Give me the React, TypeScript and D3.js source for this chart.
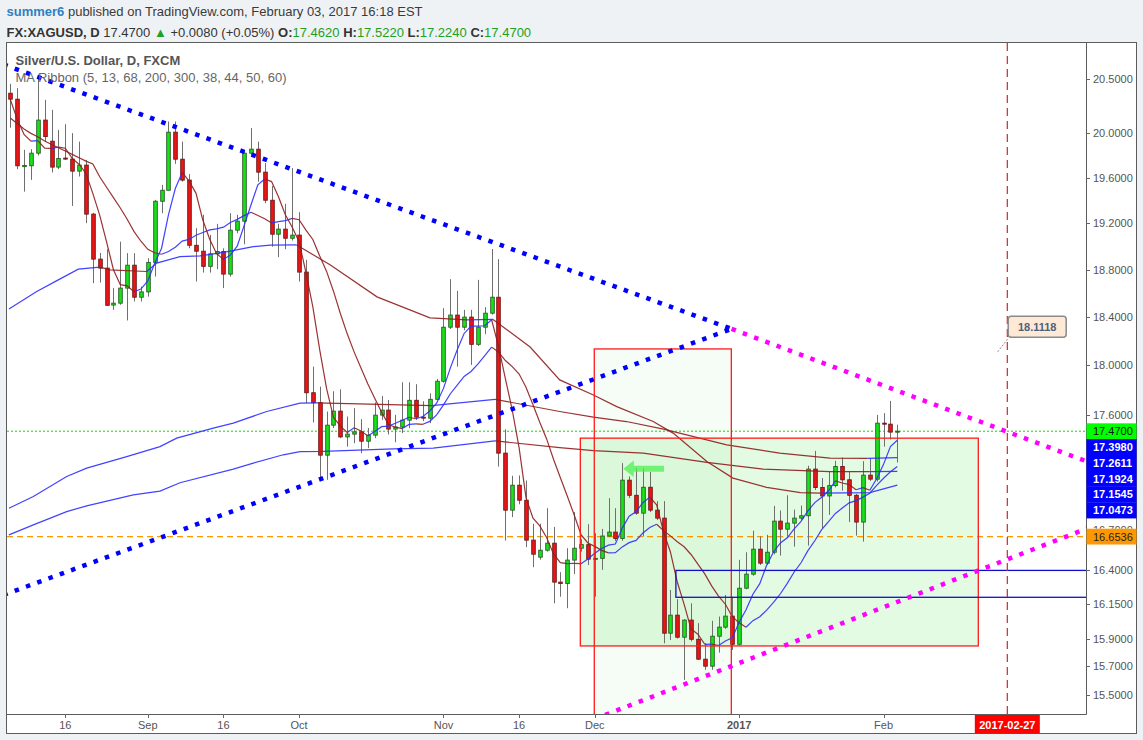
import React from 'react';
import * as d3 from 'd3';

const W = 1143;
const H = 740;
const PL = 7, PR = 1086, PT = 43, PB = 714;

// ---- OHLC (daily bars, index 0..129) ----
const opens = [
  20.368, 20.313, 19.700, 19.708, 19.821, 20.121, 19.929, 19.696, 19.777, 19.768,
  19.660, 19.714, 19.280, 18.890, 18.813, 18.500, 18.516, 18.643, 18.838, 18.566,
  18.611, 18.862, 19.393, 19.490, 20.011, 19.767, 19.580, 19.009, 18.958, 18.828,
  18.935, 18.955, 18.762, 19.140, 19.219, 19.821, 19.857, 19.651, 19.402, 19.105,
  19.149, 19.070, 19.097, 18.779, 17.778, 17.698, 17.281, 17.518, 17.630, 17.425,
  17.447, 17.465, 17.391, 17.439, 17.598, 17.638, 17.487, 17.503, 17.558, 17.717,
  17.582, 17.574, 17.725, 17.871, 18.315, 18.416, 18.315, 18.399, 18.173, 18.315,
  18.432, 18.566, 17.297, 16.855, 17.047, 16.931, 16.627, 16.499, 16.551, 16.604,
  16.313, 16.303, 16.477, 16.566, 16.593, 16.484, 16.490, 16.658, 16.688, 16.640,
  17.086, 16.969, 16.832, 17.031, 16.855, 16.794, 15.939, 16.070, 15.910, 16.034,
  15.895, 15.752, 15.702, 15.917, 15.983, 16.063, 15.859, 16.268, 16.372, 16.559,
  16.454, 16.536, 16.771, 16.710, 16.756, 16.794, 16.812, 17.172, 17.029, 16.964,
  17.044, 17.192, 17.089, 16.969, 16.764, 17.125, 17.094, 17.534, 17.526, 17.462,
];
const highs = [
  20.455, 20.415, 19.851, 19.857, 20.520, 20.307, 20.215, 20.032, 20.084, 20.002,
  19.925, 19.761, 19.291, 18.943, 18.975, 18.643, 19.040, 18.941, 18.941, 18.656,
  18.898, 19.405, 19.538, 20.108, 20.108, 19.925, 19.633, 19.157, 19.274, 19.099,
  19.195, 18.983, 19.288, 19.274, 19.851, 20.048, 19.925, 19.732, 19.529, 19.195,
  19.370, 19.687, 19.297, 18.884, 17.990, 17.827, 17.627, 17.790, 17.806, 17.587,
  17.654, 17.566, 17.495, 17.700, 17.752, 17.720, 17.600, 17.863, 17.863, 17.847,
  17.709, 17.773, 17.890, 18.474, 18.719, 18.620, 18.460, 18.460, 18.713, 18.483,
  18.977, 18.890, 17.485, 17.120, 17.123, 17.083, 16.751, 16.751, 16.870, 16.727,
  16.387, 16.566, 16.840, 16.635, 16.748, 16.680, 16.712, 16.947, 16.870, 17.219,
  17.115, 17.180, 17.180, 17.149, 16.924, 16.924, 16.255, 16.187, 16.040, 16.157,
  16.012, 15.866, 16.029, 16.060, 16.218, 16.205, 16.479, 16.536, 16.698, 16.654,
  16.667, 16.888, 16.852, 16.969, 16.859, 16.890, 17.198, 17.315, 17.102, 17.151,
  17.237, 17.263, 17.153, 16.980, 17.234, 17.258, 17.600, 17.614, 17.712, 17.522,
];
const lows = [
  20.051, 19.678, 19.478, 19.582, 19.800, 19.925, 19.648, 19.678, 19.760, 19.352,
  19.612, 19.201, 18.685, 18.690, 18.495, 18.460, 18.502, 18.371, 18.530, 18.530,
  18.571, 18.741, 19.288, 19.490, 19.725, 19.566, 18.983, 18.699, 18.775, 18.775,
  18.804, 18.643, 18.741, 19.114, 19.018, 19.800, 19.566, 19.376, 18.997, 18.907,
  18.975, 19.050, 18.699, 17.694, 17.539, 17.102, 17.089, 17.495, 17.415, 17.348,
  17.375, 17.297, 17.336, 17.415, 17.560, 17.444, 17.383, 17.455, 17.495, 17.560,
  17.550, 17.534, 17.720, 17.860, 18.300, 17.990, 18.290, 18.004, 18.160, 18.257,
  18.420, 17.192, 16.624, 16.802, 16.900, 16.574, 16.424, 16.480, 16.540, 16.157,
  16.205, 16.121, 16.372, 16.540, 16.440, 16.205, 16.404, 16.650, 16.620, 16.622,
  16.947, 16.820, 16.654, 16.840, 16.780, 15.866, 15.890, 15.900, 15.605, 15.880,
  15.747, 15.676, 15.676, 15.799, 15.970, 15.818, 15.850, 16.260, 16.360, 16.440,
  16.440, 16.520, 16.511, 16.655, 16.578, 16.780, 16.586, 17.010, 16.718, 16.819,
  17.030, 17.005, 16.764, 16.661, 16.616, 17.080, 17.075, 17.348, 17.405, 17.224,
];
const closes = [
  20.313, 19.708, 19.710, 19.821, 20.121, 19.971, 19.696, 19.773, 19.768, 19.660,
  19.714, 19.280, 18.890, 18.813, 18.498, 18.516, 18.643, 18.838, 18.566, 18.611,
  18.862, 19.393, 19.490, 20.011, 19.767, 19.580, 19.009, 18.958, 18.828, 18.935,
  18.955, 18.762, 19.140, 19.219, 19.821, 19.857, 19.651, 19.402, 19.105, 19.149,
  19.070, 19.097, 18.779, 17.778, 17.698, 17.281, 17.518, 17.630, 17.425, 17.447,
  17.465, 17.391, 17.439, 17.598, 17.638, 17.487, 17.503, 17.558, 17.717, 17.582,
  17.574, 17.725, 17.871, 18.315, 18.416, 18.315, 18.399, 18.173, 18.315, 18.432,
  18.566, 17.297, 16.855, 17.047, 16.931, 16.627, 16.521, 16.551, 16.604, 16.313,
  16.303, 16.477, 16.566, 16.593, 16.484, 16.490, 16.658, 16.688, 16.640, 17.086,
  16.969, 16.832, 17.031, 16.855, 16.794, 15.939, 16.070, 15.910, 16.034, 15.895,
  15.752, 15.702, 15.917, 15.983, 16.063, 15.859, 16.268, 16.372, 16.559, 16.454,
  16.536, 16.771, 16.710, 16.756, 16.794, 16.812, 17.172, 17.029, 16.964, 17.044,
  17.192, 17.089, 16.969, 16.764, 17.125, 17.094, 17.534, 17.526, 17.463, 17.470,
];

// ---- MA ribbon lines ----
const ma5 = [
  20.31, 20.13, 19.99, 19.93, 19.935, 19.866, 19.864, 19.876, 19.866, 19.774,
  19.722, 19.639, 19.462, 19.271, 19.039, 18.799, 18.672, 18.662, 18.612, 18.635,
  18.704, 18.854, 18.984, 19.273, 19.505, 19.648, 19.571, 19.465, 19.228, 19.062,
  18.937, 18.888, 18.924, 19.002, 19.179, 19.360, 19.538, 19.590, 19.567, 19.433,
  19.275, 19.165, 19.040, 18.775, 18.484, 18.127, 17.811, 17.581, 17.510, 17.460,
  17.497, 17.472, 17.433, 17.468, 17.506, 17.511, 17.533, 17.557, 17.581, 17.569,
  17.587, 17.631, 17.694, 17.813, 17.980, 18.128, 18.263, 18.324, 18.324, 18.327,
  18.377, 18.157, 17.893, 17.639, 17.339, 16.951, 16.796, 16.735, 16.647, 16.523,
  16.458, 16.450, 16.453, 16.450, 16.485, 16.528, 16.564, 16.589, 16.598, 16.718,
  16.808, 16.843, 16.912, 16.955, 16.896, 16.690, 16.538, 16.314, 16.149, 15.970,
  15.932, 15.859, 15.860, 15.850, 15.883, 15.905, 16.018, 16.109, 16.224, 16.302,
  16.438, 16.538, 16.606, 16.645, 16.713, 16.769, 16.849, 16.913, 16.954, 17.004,
  17.080, 17.064, 17.052, 17.012, 17.028, 17.008, 17.097, 17.209, 17.348, 17.398,
];
const ma13 = [
  20.14, 20.09, 20.04, 20.00, 19.97, 19.93, 19.90, 19.87, 19.84, 19.81,
  19.78, 19.75, 19.725, 19.610, 19.517, 19.425, 19.334, 19.235, 19.127, 19.044,
  18.974, 18.945, 18.932, 18.955, 18.992, 19.045, 19.060, 19.096, 19.120, 19.142,
  19.151, 19.166, 19.207, 19.234, 19.267, 19.296, 19.268, 19.240, 19.203, 19.214,
  19.223, 19.243, 19.231, 19.141, 19.059, 18.916, 18.785, 18.617, 18.429, 18.260,
  18.111, 17.979, 17.848, 17.734, 17.622, 17.523, 17.502, 17.491, 17.524, 17.529,
  17.525, 17.548, 17.600, 17.680, 17.770, 17.840, 17.910, 17.950, 18.010, 18.080,
  18.150, 18.110, 18.040, 17.990, 17.930, 17.822, 17.684, 17.541, 17.409, 17.249,
  17.105, 16.963, 16.820, 16.668, 16.606, 16.580, 16.550, 16.531, 16.532, 16.576,
  16.608, 16.625, 16.681, 16.723, 16.747, 16.699, 16.659, 16.615, 16.577, 16.519,
  16.447, 16.374, 16.285, 16.209, 16.150, 16.059, 16.014, 15.982, 16.030, 16.059,
  16.107, 16.164, 16.227, 16.304, 16.388, 16.457, 16.548, 16.622, 16.707, 16.767,
  16.830, 16.871, 16.911, 16.928, 16.955, 16.985, 17.045, 17.101, 17.151, 17.1924,
];
const ma68: [number, number][] = [
  [-0.2, 18.466], [3.84, 18.614], [6.98, 18.713], [9.89, 18.804], [13.05, 18.821],
  [14.5, 18.798], [19.84, 18.784], [21.29, 18.856], [24.68, 18.912], [27.6, 18.918],
  [31.2, 18.95], [35.34, 18.997], [37.8, 19.011], [41.65, 19.012], [46.5, 18.841],
  [53.33, 18.569], [61.04, 18.393], [66.4, 18.376], [70.2, 18.38], [75.6, 18.151],
  [79.9, 17.882], [84.8, 17.76], [88.2, 17.666], [93.5, 17.547], [96.4, 17.455],
  [101.3, 17.231], [105.1, 17.102], [110, 17.03], [114.9, 16.99], [117.8, 16.985],
  [125, 16.99], [129, 17.0473],
];
const ma200: [number, number][] = [
  [-0.2, 16.87], [3.35, 16.959], [8.2, 17.114], [11.11, 17.18], [16.93, 17.27],
  [21.77, 17.348], [24.2, 17.415], [29.52, 17.495], [32.43, 17.534], [37.29, 17.627],
  [42.13, 17.694], [44.6, 17.697], [61.3, 17.674], [70.5, 17.725], [79.9, 17.627],
  [84.8, 17.582], [89.6, 17.547], [95.0, 17.487], [104.2, 17.362], [111.9, 17.297],
  [119.2, 17.258], [124.7, 17.256], [129, 17.2611],
];
const ma300: [number, number][] = [
  [-0.2, 16.667], [3.35, 16.743], [8.2, 16.844], [11.11, 16.888], [17.89, 16.972],
  [21.77, 17.001], [24.68, 17.066], [32.43, 17.172], [35.34, 17.219], [39.7, 17.284],
  [42.13, 17.309], [45.5, 17.311], [55.7, 17.33], [61.5, 17.336], [70.5, 17.393],
  [79.9, 17.341], [84.8, 17.317], [92.06, 17.297], [101.3, 17.224], [109.5, 17.172],
  [119.2, 17.153], [125, 17.152], [129, 17.1545],
];

// ---- axes ----
const priceTicks = [20.5, 20.0, 19.6, 19.2, 18.8, 18.4, 18.0, 17.6, 16.7, 16.4, 16.15, 15.9, 15.7, 15.5];
const timeTickIdx = [8, 20, 31, 42, 63, 74, 85, 106, 127];
const timeTickLabels = ['16', 'Sep', '16', 'Oct', 'Nov', '16', 'Dec', '2017', 'Feb'];
const futureIdx = 145;
const futureLabel = '2017-02-27';

// ---- drawings ----
const trendDescBlue: [number, number][] = [[-1, 20.636], [104.9, 18.301]];
const trendAscBlue: [number, number][] = [[-1, 16.218], [104.9, 18.301]];
const trendDescMagenta: [number, number][] = [[104.9, 18.301], [160, 17.163]];
const trendAscMagenta: [number, number][] = [[80, 15.238], [160, 16.784]];
const rectTall = { i0: 84.93, i1: 104.86, top: 18.135, bottom: 15.3 };
const rectWide = { i0: 82.9, i1: 140.78, top: 17.415, bottom: 15.847 };
const rectBlue = { i0: 96.8, i1: 170, top: 16.4, bottom: 16.201 };
const lastPrice = 17.47;
const orangeLevel = 16.6536;
const arrowTipIdx = 89.15, arrowTailIdx = 95.07, arrowPrice = 17.175;
const calloutIdx = 143.6, calloutPrice = 18.1118;

const BLUE_MA = '#2d2dff';
const RED_MA = '#8f1d1d';
const FONT = 'Liberation Sans, Arial, Helvetica, sans-serif';

function splitByDirection(pts: [number, number][]) {
  const segs: { pts: [number, number][]; up: boolean }[] = [];
  let cur: [number, number][] = [pts[0]];
  let curUp: boolean | null = null;
  for (let k = 1; k < pts.length; k++) {
    const up = pts[k][1] >= pts[k - 1][1];
    if (curUp === null) curUp = up;
    if (up !== curUp) {
      segs.push({ pts: cur, up: curUp });
      cur = [pts[k - 1]];
      curUp = up;
    }
    cur.push(pts[k]);
  }
  segs.push({ pts: cur, up: !!curUp });
  return segs;
}

export default function App() {
  const x = d3.scaleLinear().domain([0, 129]).range([10.3, 897.3]);
  const y = d3.scaleLog().domain([15.5, 20.5]).range([694.7, 79]);
  const line = d3.line<[number, number]>().x((d) => x(d[0])).y((d) => y(d[1]));
  const fmt = d3.format('.4f');

  const maSeries: [number, number][][] = [
    ma300, ma200, ma68,
    ma13.map((v, i) => [i, v] as [number, number]),
    ma5.map((v, i) => [i, v] as [number, number]),
  ];

  // right-axis labels for the MA lines (stacked to avoid overlap)
  const maLast = [ma5[129], ma200[ma200.length - 1][1], ma13[129], ma300[ma300.length - 1][1], ma68[ma68.length - 1][1]];
  const LH = 15.8;
  let prevBottom = y(lastPrice) + LH / 2;
  const blueLabels = maLast
    .map((v) => ({ v, yy: y(v) }))
    .sort((a, b) => a.yy - b.yy)
    .map((d) => {
      const cy = Math.max(d.yy, prevBottom + LH / 2);
      prevBottom = cy + LH / 2;
      return { ...d, cy };
    });

  const dotted = (pts: [number, number][], color: string, key: string) => (
    <path key={key} d={line(pts) || ''} fill="none" stroke={color} strokeWidth={4.5} strokeDasharray="4.5 7.5" />
  );

  const tipX = x(arrowTipIdx), tailX = x(arrowTailIdx), ay = y(arrowPrice);
  const headX = tipX + 10.5;
  const arrowPath = `M${tipX},${ay} L${headX},${ay - 8.3} L${headX},${ay - 3} L${tailX},${ay - 3} L${tailX},${ay + 3} L${headX},${ay + 3} L${headX},${ay + 8.3} Z`;

  const cpx = x(calloutIdx), cpy = y(calloutPrice);
  const y167 = y(16.7);

  return (
    <div style={{ position: 'absolute', left: 0, top: 0, width: W, height: H }}>
      <svg width={W} height={H} style={{ display: 'block', fontFamily: FONT }}>
        <defs>
          <clipPath id="plotClip">
            <rect x={PL} y={PT} width={PR - PL} height={PB - PT} />
          </clipPath>
          <clipPath id="peekClip">
            <rect x={PR} y={y167 - 8} width={52} height={y(orangeLevel) - LH / 2 - (y167 - 8)} />
          </clipPath>
        </defs>
        <rect x={0} y={0} width={W} height={H} fill="#eff2f5" />

        {/* header */}
        <text x={6.5} y={16} fontSize={13} fill="#3a3a3a">
          <tspan fontWeight="bold" fill="#2f7fc1">summer6</tspan>
          <tspan> published on TradingView.com, February 03, 2017 16:18 EST</tspan>
        </text>
        <text x={6.5} y={37} fontSize={13} fill="#333">
          <tspan fontWeight="bold">FX:XAGUSD, D</tspan>
          <tspan> 17.4700 </tspan>
          <tspan fill="#22a022">▲</tspan>
          <tspan> +0.0080 (+0.05%) </tspan>
          <tspan fontWeight="bold">O:</tspan><tspan fill="#22a022">17.4620</tspan>
          <tspan fontWeight="bold"> H:</tspan><tspan fill="#22a022">17.5220</tspan>
          <tspan fontWeight="bold"> L:</tspan><tspan fill="#22a022">17.2240</tspan>
          <tspan fontWeight="bold"> C:</tspan><tspan fill="#22a022">17.4700</tspan>
        </text>

        {/* pane */}
        <rect x={6.5} y={42.5} width={1130} height={691} fill="#ffffff" stroke="#5c5c5c" />

        <g clipPath="url(#plotClip)">
          {/* rectangle fills */}
          <rect x={x(rectTall.i0)} y={y(rectTall.top)} width={x(rectTall.i1) - x(rectTall.i0)}
            height={y(rectTall.bottom) - y(rectTall.top)} fill="rgba(0,190,0,0.035)" />
          <rect x={x(rectWide.i0)} y={y(rectWide.top)} width={x(rectWide.i1) - x(rectWide.i0)}
            height={y(rectWide.bottom) - y(rectWide.top)} fill="rgba(0,210,0,0.11)" />

          {/* horizontal levels */}
          <line x1={PL} x2={PR} y1={y(lastPrice)} y2={y(lastPrice)} stroke="#00e000" strokeWidth={1} strokeDasharray="2 2" />
          <line x1={PL} x2={PR} y1={y(orangeLevel)} y2={y(orangeLevel)} stroke="#ff9800" strokeWidth={1.3} strokeDasharray="6 4" />

          {/* candles */}
          {closes.map((c, i) => {
            const o = opens[i];
            const up = c >= o;
            const cx = Math.round(x(i)) + 0.5;
            const yt = y(Math.max(o, c));
            const yb = y(Math.min(o, c));
            return (
              <g key={i}>
                <line x1={cx} x2={cx} y1={y(highs[i])} y2={y(lows[i])} stroke="#6f6f6f" strokeWidth={1} />
                <rect x={cx - 1.8} y={yt} width={3.6} height={Math.max(1, yb - yt)}
                  fill={up ? '#17e317' : '#ee1414'} stroke={up ? '#2b5b2b' : '#6a1a1a'} strokeWidth={0.9} />
              </g>
            );
          })}

          {/* MA ribbon */}
          {maSeries.map((s, si) =>
            splitByDirection(s).map((seg, k) => (
              <path key={`${si}-${k}`} d={line(seg.pts) || ''} fill="none"
                stroke={seg.up ? BLUE_MA : RED_MA} strokeWidth={1.2} strokeOpacity={0.9} />
            ))
          )}

          {/* rectangle borders */}
          <rect x={x(rectTall.i0)} y={y(rectTall.top)} width={x(rectTall.i1) - x(rectTall.i0)}
            height={y(rectTall.bottom) - y(rectTall.top)} fill="none" stroke="#ff1a1a" strokeWidth={1.3} />
          <rect x={x(rectWide.i0)} y={y(rectWide.top)} width={x(rectWide.i1) - x(rectWide.i0)}
            height={y(rectWide.bottom) - y(rectWide.top)} fill="none" stroke="#ff1a1a" strokeWidth={1.3} />
          <rect x={x(rectBlue.i0)} y={y(rectBlue.top)} width={x(rectBlue.i1) - x(rectBlue.i0)}
            height={y(rectBlue.bottom) - y(rectBlue.top)} fill="none" stroke="#1010c8" strokeWidth={1.3} />

          {/* arrow */}
          <path d={arrowPath} fill="#4ff04f" fillOpacity={0.75} />

          {/* trend lines */}
          {dotted(trendDescBlue, '#0000ff', 'db')}
          {dotted(trendAscBlue, '#0000ff', 'ab')}
          {dotted(trendDescMagenta, '#ff00ff', 'dm')}
          {dotted(trendAscMagenta, '#ff00ff', 'am')}

          {/* future date line */}
          <line x1={x(futureIdx)} x2={x(futureIdx)} y1={PT} y2={PB} stroke="#e02020" strokeWidth={1.2} strokeDasharray="8 5" />

          {/* price callout */}
          <line x1={cpx} y1={cpy} x2={cpx + 11} y2={cpy - 14} stroke="#888" strokeWidth={1} strokeDasharray="2 1.5" />
          <rect x={cpx + 10.5} y={y(calloutPrice) - 35.5} width={58} height={21} rx={3} fill="#fde9d6" stroke="#8a8a8a" strokeWidth={1.5} />
          <text x={cpx + 39.5} y={cpy - 21} textAnchor="middle" fontSize={11} fontWeight="bold" fill="#50607a">{fmt(calloutPrice)}</text>
        </g>

        {/* legend */}
        <text x={15.5} y={65} fontSize={13} fontWeight="bold" fill="#555">Silver/U.S. Dollar, D, FXCM</text>
        <text x={15.5} y={82} fontSize={13} fill="#666">MA Ribbon (5, 13, 68, 200, 300, 38, 44, 50, 60)</text>

        {/* axes separators */}
        <line x1={PR + 0.5} x2={PR + 0.5} y1={PT} y2={PB + 0.5} stroke="#5c5c5c" />
        <line x1={PL} x2={PR + 0.5} y1={PB + 0.5} y2={PB + 0.5} stroke="#5c5c5c" />

        {/* price axis */}
        {priceTicks.map((t) => (
          <g key={t} clipPath={t === 16.7 ? 'url(#peekClip)' : undefined}>
            <line x1={PR} x2={PR + 4} y1={Math.round(y(t)) + 0.5} y2={Math.round(y(t)) + 0.5} stroke="#666" />
            <text x={PR + 7} y={y(t) + 4} fontSize={11} fill="#555">{fmt(t)}</text>
          </g>
        ))}
        <rect x={PR + 0.5} y={y(lastPrice) - LH / 2} width={50} height={LH} fill="#00ff00" />
        <text x={PR + 7} y={y(lastPrice) + 4} fontSize={11} fill="#111">{fmt(lastPrice)}</text>
        {blueLabels.map((d, k) => (
          <g key={k}>
            <rect x={PR + 0.5} y={d.cy - LH / 2} width={50} height={LH + 0.3} fill="#0000ff" />
            <text x={PR + 7} y={d.cy + 4} fontSize={11} fontWeight="bold" fill="#ffffff">{fmt(d.v)}</text>
          </g>
        ))}
        <rect x={PR + 0.5} y={y(orangeLevel) - LH / 2} width={50} height={LH} fill="#ff9800" />
        <text x={PR + 7} y={y(orangeLevel) + 4} fontSize={11} fill="#222">{fmt(orangeLevel)}</text>

        {/* time axis */}
        {timeTickIdx.map((ti, k) => (
          <g key={ti}>
            <line x1={Math.round(x(ti)) + 0.5} x2={Math.round(x(ti)) + 0.5} y1={PB} y2={PB + 4} stroke="#666" />
            <text x={x(ti)} y={729} fontSize={11} textAnchor="middle" fill="#555"
              fontWeight={timeTickLabels[k] === '2017' ? 'bold' : 'normal'}>{timeTickLabels[k]}</text>
          </g>
        ))}
        <rect x={x(futureIdx) - 32.5} y={PB + 1} width={65} height={18.5} fill="#ff0000" />
        <text x={x(futureIdx)} y={729} fontSize={11} fontWeight="bold" textAnchor="middle" fill="#ffffff">{futureLabel}</text>
      </svg>
    </div>
  );
}
